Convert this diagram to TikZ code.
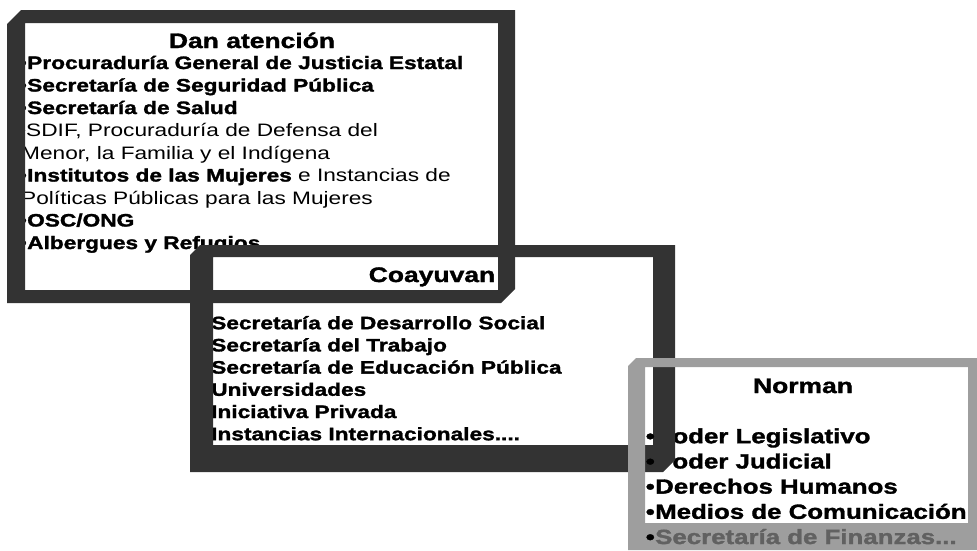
\documentclass[tikz,border=0pt]{standalone}
\usepackage{fontspec}
\newfontfamily\boxfont{Liberation Sans}[FakeStretch=1.26, BoldFeatures={FakeBold=1.6}]
\tikzset{
  frame dark/.style  = {fill=black!80, even odd rule},
  frame light/.style = {fill=black!38, even odd rule},
  titletext/.style   = {font=\boxfont\bfseries\fontsize{21}{24}\selectfont, inner sep=0pt, anchor=base},
  itemtext/.style    = {font=\boxfont\bfseries\fontsize{18}{22}\selectfont, inner sep=0pt, anchor=base west},
  normtext/.style    = {font=\boxfont\bfseries\fontsize{20.5}{24}\selectfont, inner sep=0pt, anchor=base west},
}
\begin{document}
\begin{tikzpicture}[x=1pt, y=-1pt]
    \useasboundingbox (0,0) rectangle (977,550);
    % Dan atencion
    \node[titletext] (dan) at (252,48) {Dan atención};
    \node[itemtext] (dan1) at (27,69)    {Procuraduría General de Justicia Estatal};
    \node[itemtext] (dan2) at (27,91.5)  {Secretaría de Seguridad Pública};
    \node[itemtext] (dan3) at (27,114)   {Secretaría de Salud};
    \node[itemtext] (dan4) at (26,136.5) {\mdseries SDIF, Procuraduría de Defensa del};
    \node[itemtext] (dan5) at (21,159)   {\mdseries Menor, la Familia y el Indígena};
    \node[itemtext] (dan6) at (27,181.5) {Institutos de las Mujeres {\mdseries e Instancias de}};
    \node[itemtext] (dan7) at (21,204)   {\mdseries Políticas Públicas para las Mujeres};
    \node[itemtext] (dan8) at (27,226.5) {OSC/ONG};
    \node[itemtext] (dan9) at (27,249)   {Albergues y Refugios};
    \foreach \n in {1,2,3,4,6,8,9}
        \node[itemtext, anchor=base east] (dot\n) at (dan\n.base west) {•};
    % Coayuvan
    \node[titletext] (coa) at (432,282) {Coayuvan};
    \foreach \txt [count=\i] in {Secretaría de Desarrollo Social, Secretaría del Trabajo,
            Secretaría de Educación Pública, Universidades, Iniciativa Privada}
        \node[itemtext] (coa\i) at (211,307+22.2*\i) {\txt};
    \node[itemtext] (coa6) at (211,440.2) {Instancias Internacionales....};
    % Norman
    \node[titletext] (nor) at (803,393) {Norman};
    \foreach \txt [count=\i] in {Poder Legislativo, Poder Judicial, Derechos Humanos, Medios de Comunicación}
        \node[normtext] (nor\i) at (655,418+25.2*\i) {\txt};
    % frames
    \fill[frame dark] (7,24) -- (21,10) -- (515,10) -- (515,289) -- (501,303) -- (7,303) -- cycle
        (25,23) rectangle (498,290);
    \fill[frame dark] (190,255) -- (200,245) -- (675,245) -- (675,460) -- (663,472) -- (190,472) -- cycle
        (213,257) rectangle (653,445);
    \fill[frame light] (628,366) -- (636,358) -- (977,358) -- (977,550) -- (628,550) -- cycle
        (645,367) rectangle (968,523);
    \node[normtext, text=black!62] (nor5) at (655,544) {Secretaría de Finanzas...};
    \foreach \n in {1,2,3,4,5}
        \node[normtext, anchor=base east] (bul\n) at (nor\n.base west) {•};
\end{tikzpicture}
\end{document}
